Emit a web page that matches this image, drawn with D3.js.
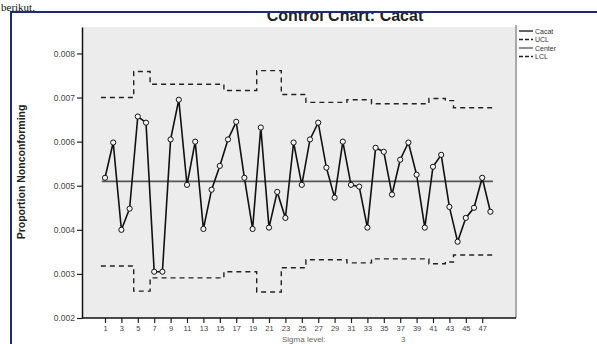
<!DOCTYPE html>
<html>
<head>
<meta charset="utf-8">
<script src="https://cdn.jsdelivr.net/npm/d3@7"></script>
<style>
  html, body { margin: 0; padding: 0; background: #fff; }
  svg { display: block; }
</style>
</head>
<body>
<svg id="chart" width="597" height="344"></svg>
<script>
// ---- data ----
const samples = d3.range(1, 49); // 48 subgroups
const cacat = [
  0.00518, 0.00598, 0.00400, 0.00448, 0.00657, 0.00643, 0.00305, 0.00305,
  0.00605, 0.00695, 0.00502, 0.00600, 0.00402, 0.00491, 0.00545, 0.00605,
  0.00645, 0.00518, 0.00402, 0.00632, 0.00405, 0.00486, 0.00427, 0.00598,
  0.00502, 0.00605, 0.00643, 0.00541, 0.00473, 0.00600, 0.00502, 0.00498,
  0.00405, 0.00586, 0.00577, 0.00480, 0.00559, 0.00598, 0.00525, 0.00405,
  0.00543, 0.00570, 0.00452, 0.00373, 0.00427, 0.00450, 0.00518, 0.00441
];
const ucl = [
  0.00700, 0.00700, 0.00700, 0.00700, 0.00759, 0.00759, 0.00730, 0.00730,
  0.00730, 0.00730, 0.00730, 0.00730, 0.00730, 0.00730, 0.00730, 0.00716,
  0.00716, 0.00716, 0.00716, 0.00761, 0.00761, 0.00761, 0.00707, 0.00707,
  0.00707, 0.00689, 0.00689, 0.00689, 0.00689, 0.00689, 0.00695, 0.00695,
  0.00695, 0.00686, 0.00686, 0.00686, 0.00686, 0.00686, 0.00686, 0.00686,
  0.00698, 0.00698, 0.00693, 0.00677, 0.00677, 0.00677, 0.00677, 0.00677
];
const lcl = [
  0.00318, 0.00318, 0.00318, 0.00318, 0.00261, 0.00261, 0.00291, 0.00291,
  0.00291, 0.00291, 0.00291, 0.00291, 0.00291, 0.00291, 0.00291, 0.00305,
  0.00305, 0.00305, 0.00305, 0.00259, 0.00259, 0.00259, 0.00314, 0.00314,
  0.00314, 0.00332, 0.00332, 0.00332, 0.00332, 0.00332, 0.00325, 0.00325,
  0.00325, 0.00334, 0.00334, 0.00334, 0.00334, 0.00334, 0.00334, 0.00334,
  0.00323, 0.00323, 0.00327, 0.00343, 0.00343, 0.00343, 0.00343, 0.00343
];
const center = 0.0051;
const yTicks = [0.002, 0.003, 0.004, 0.005, 0.006, 0.007, 0.008];
const xTicks = d3.range(1, 48, 2);
const legendItems = ["Cacat", "UCL", "Center", "LCL"];
const title = "Control Chart: Cacat";
const yTitle = "Proportion Nonconforming";
const docText = "berikut.";

// ---- drawing ----
const svg = d3.select("#chart");
const W = 597, H = 344;
const plot = { left: 82, right: 516, top: 27, bottom: 318 };

const x = d3.scaleLinear().domain([1, 48]).range([105, 490.4]);
const y = d3.scaleLinear().domain([0.002, 0.0086]).range([plot.bottom, plot.top]);

// document text above the figure
svg.append("text")
  .attr("x", 1).attr("y", 10.5)
  .attr("font-family", "Liberation Serif, serif")
  .attr("font-size", 11)
  .attr("fill", "#111")
  .text(docText);

const defs = svg.append("defs");
defs.append("clipPath").attr("id", "frameClip")
  .append("rect").attr("x", 12).attr("y", 13).attr("width", W - 12).attr("height", H - 13);

const g = svg.append("g").attr("clip-path", "url(#frameClip)");
g.append("rect").attr("x", 12).attr("y", 13).attr("width", W - 12).attr("height", H - 13).attr("fill", "#fff");

// title
g.append("text")
  .attr("x", 345).attr("y", 21)
  .attr("text-anchor", "middle")
  .attr("font-family", "Liberation Sans, Arial, sans-serif")
  .attr("font-weight", "bold")
  .attr("font-size", 16)
  .attr("fill", "#222")
  .text(title);

// plot background
g.append("rect")
  .attr("x", plot.left).attr("y", plot.top)
  .attr("width", plot.right - plot.left).attr("height", plot.bottom - plot.top)
  .attr("fill", "#ececec");
g.append("line")
  .attr("x1", plot.right).attr("x2", plot.right)
  .attr("y1", plot.top - 2).attr("y2", plot.bottom)
  .attr("stroke", "#aaa").attr("stroke-width", 2);

// axes
const yAxis = d3.axisLeft(y).tickValues(yTicks).tickSize(5).tickSizeOuter(0).tickFormat(d3.format(".3f"));
const ya = g.append("g").attr("transform", `translate(${plot.left},0)`).call(yAxis);
ya.select(".domain").attr("stroke", "#111").attr("stroke-width", 1.5);
ya.selectAll(".tick line").attr("stroke", "#222").attr("stroke-width", 1.2);
ya.selectAll(".tick text")
  .attr("font-family", "Liberation Sans, Arial, sans-serif")
  .attr("font-size", 8.5).attr("fill", "#444").attr("x", -7);

const xAxis = d3.axisBottom(x).tickValues(xTicks).tickSize(5).tickSizeOuter(0);
const xa = g.append("g").attr("transform", `translate(0,${plot.bottom})`).call(xAxis);
xa.select(".domain").remove();
xa.selectAll(".tick line").attr("stroke", "#222").attr("stroke-width", 1.2);
xa.selectAll(".tick text")
  .attr("font-family", "Liberation Sans, Arial, sans-serif")
  .attr("font-size", 7.5).attr("fill", "#444").attr("y", 8);
g.append("line")
  .attr("x1", plot.left).attr("x2", plot.right)
  .attr("y1", plot.bottom).attr("y2", plot.bottom)
  .attr("stroke", "#111").attr("stroke-width", 1.5);

// y title
g.append("text")
  .attr("transform", `translate(25,172) rotate(-90)`)
  .attr("text-anchor", "middle")
  .attr("font-family", "Liberation Sans, Arial, sans-serif")
  .attr("font-weight", "bold")
  .attr("font-size", 10.5)
  .attr("fill", "#222")
  .text(yTitle);

// footnote (partially visible)
g.append("text").attr("x", 282).attr("y", 342)
  .attr("font-family", "Liberation Sans, Arial, sans-serif")
  .attr("font-size", 8).attr("fill", "#666").text("Sigma level:");
g.append("text").attr("x", 401).attr("y", 342)
  .attr("font-family", "Liberation Sans, Arial, sans-serif")
  .attr("font-size", 8).attr("fill", "#666").text("3");

// control limits as steps
function stepPoints(arr) {
  const pts = arr.map((v, i) => [samples[i] - 0.5, v]);
  pts.push([samples[samples.length - 1] + 0.5, arr[arr.length - 1]]);
  return pts;
}
const stepLine = d3.line().x(d => x(d[0])).y(d => y(d[1])).curve(d3.curveStepAfter);
[ucl, lcl].forEach(arr => {
  g.append("path")
    .attr("d", stepLine(stepPoints(arr)))
    .attr("fill", "none")
    .attr("stroke", "#222")
    .attr("stroke-width", 1.4)
    .attr("stroke-dasharray", "5,4");
});

// center line
g.append("line")
  .attr("x1", x(0.6)).attr("x2", x(48.3))
  .attr("y1", y(center)).attr("y2", y(center))
  .attr("stroke", "#555").attr("stroke-width", 1.8);

// data line
const dataLine = d3.line().x((d, i) => x(samples[i])).y(d => y(d));
g.append("path")
  .attr("d", dataLine(cacat))
  .attr("fill", "none")
  .attr("stroke", "#111")
  .attr("stroke-width", 1.6);
g.selectAll("circle.pt").data(cacat).enter().append("circle")
  .attr("class", "pt")
  .attr("cx", (d, i) => x(samples[i]))
  .attr("cy", d => y(d))
  .attr("r", 2.6)
  .attr("fill", "#f4f4f4")
  .attr("stroke", "#111")
  .attr("stroke-width", 1);

// legend
const lg = g.append("g").attr("transform", "translate(519,31)");
legendItems.forEach((name, i) => {
  const row = lg.append("g").attr("transform", `translate(0,${i * 8.5})`);
  row.append("line")
    .attr("x1", 0).attr("x2", 14).attr("y1", 0).attr("y2", 0)
    .attr("stroke", i === 0 ? "#111" : (i === 2 ? "#555" : "#222"))
    .attr("stroke-width", 1.3)
    .attr("stroke-dasharray", (i === 1 || i === 3) ? "4,2" : null);
  row.append("text")
    .attr("x", 16).attr("y", 2.5)
    .attr("font-family", "Liberation Sans, Arial, sans-serif")
    .attr("font-size", 7).attr("fill", "#333")
    .text(name);
});

// blue frame
svg.append("line").attr("x1", 10).attr("x2", W).attr("y1", 12).attr("y2", 12)
  .attr("stroke", "#1c2c6e").attr("stroke-width", 2);
svg.append("line").attr("x1", 11).attr("x2", 11).attr("y1", 12).attr("y2", H)
  .attr("stroke", "#1c2c6e").attr("stroke-width", 2);
</script>
</body>
</html>
